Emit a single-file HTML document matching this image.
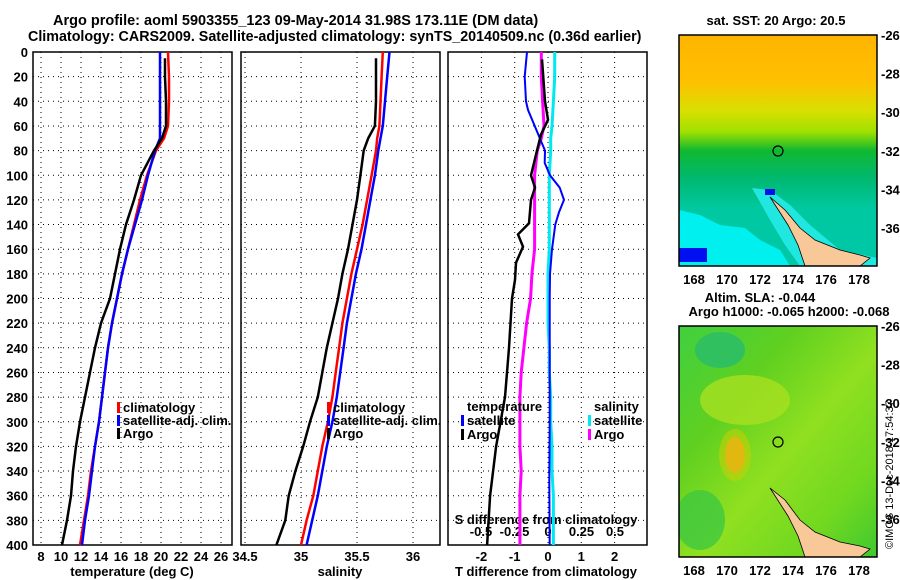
<!DOCTYPE html>
<html><head><meta charset="utf-8"><style>
body{margin:0;background:#fff;}
svg{display:block;font-family:"Liberation Sans",sans-serif;font-weight:bold;}
</style></head><body>
<svg id="c" width="900" height="580" viewBox="0 0 900 580">
<defs>
<linearGradient id="sst" x1="0" y1="0" x2="0" y2="1">
<stop offset="0" stop-color="#ffb400"/><stop offset="0.2" stop-color="#ffc000"/><stop offset="0.33" stop-color="#d8e000"/><stop offset="0.42" stop-color="#9ee000"/><stop offset="0.5" stop-color="#10b830"/><stop offset="0.62" stop-color="#00b870"/><stop offset="0.75" stop-color="#00c8a0"/><stop offset="1" stop-color="#00c8a8"/>
</linearGradient>
<linearGradient id="sla" x1="0" y1="0" x2="1" y2="1">
<stop offset="0" stop-color="#40d040"/><stop offset="0.3" stop-color="#60d020"/><stop offset="0.55" stop-color="#90e020"/><stop offset="0.8" stop-color="#70d820"/><stop offset="1" stop-color="#40c830"/>
</linearGradient>
<clipPath id="m1"><rect x="679" y="35" width="198" height="231"/></clipPath>
<clipPath id="m2"><rect x="679" y="326" width="198" height="231"/></clipPath>
</defs>
<text x="53" y="25" font-size="14.5">Argo profile: aoml 5903355_123 09-May-2014 31.98S 173.11E (DM data)</text>
<text x="28" y="41" font-size="14.3">Climatology: CARS2009. Satellite-adjusted climatology: synTS_20140509.nc (0.36d earlier)</text>
<g id="plots"></g>
<g>
<text x="776" y="25" font-size="13" text-anchor="middle">sat. SST: 20 Argo: 20.5</text>
<g clip-path="url(#m1)">
<rect x="679" y="35" width="198" height="231" fill="url(#sst)"/>
<path d="M679 210 L700 215 L720 225 L745 228 L760 240 L780 250 L790 266 L679 266 Z" fill="#00f0f0"/>
<rect x="679" y="248" width="28" height="14" fill="#0010f0"/>
<path d="M752 188 L770 190 L790 205 L810 225 L840 250 L877 258 L877 266 L800 266 L785 245 L770 220 Z" fill="#20e8e0"/>
<path d="M770 197 L785 210 L800 228 L815 240 L840 250 L860 255 L870 258 L860 266 L805 266 L798 245 L788 225 Z" fill="#f8c898" stroke="#000" stroke-width="0.8"/>
<rect x="765" y="189" width="10" height="6" fill="#0010f0"/>
</g>
<rect x="679" y="35" width="198" height="231" fill="none" stroke="#000" stroke-width="1.5"/>
<circle cx="778" cy="151" r="5" fill="none" stroke="#000" stroke-width="1.2"/>
</g>
<g>
<text x="760" y="302" font-size="13" text-anchor="middle">Altim. SLA: -0.044</text>
<text x="789" y="316" font-size="13" text-anchor="middle">Argo h1000: -0.065 h2000: -0.068</text>
<g clip-path="url(#m2)">
<rect x="679" y="326" width="198" height="231" fill="url(#sla)"/>
<ellipse cx="720" cy="350" rx="25" ry="18" fill="#30c060"/>
<ellipse cx="745" cy="400" rx="45" ry="25" fill="#a8e020" opacity="0.8"/>
<ellipse cx="735" cy="455" rx="10" ry="18" fill="#f0a020"/>
<ellipse cx="735" cy="455" rx="16" ry="26" fill="#d0d000" opacity="0.5"/>
<ellipse cx="700" cy="520" rx="25" ry="30" fill="#40c840" opacity="0.8"/>
<path d="M770 488 L785 500 L800 520 L815 532 L840 542 L860 546 L870 549 L860 557 L805 557 L798 536 L788 516 Z" fill="#f8c898" stroke="#000" stroke-width="0.8"/>
</g>
<rect x="679" y="326" width="198" height="231" fill="none" stroke="#000" stroke-width="1.5"/>
<circle cx="778" cy="442" r="5" fill="none" stroke="#000" stroke-width="1.2"/>
</g>
<text transform="translate(893,549) rotate(-90)" font-size="11" font-weight="normal">©IMOS 13-Dec-2018 17:54:37</text>
</svg>
<script>
const depths=[0,20,40,60,70,80,100,120,140,160,180,200,220,240,260,280,300,320,340,360,380,400];
const tClim=[20.7,20.8,20.8,20.7,20.3,19.5,18.6,17.9,17.3,16.7,16.1,15.6,15.1,14.7,14.4,14.1,13.8,13.4,13.0,12.7,12.3,11.9];
const tSat =[19.9,19.9,19.9,19.9,19.9,19.4,18.7,18.1,17.4,16.7,16.1,15.6,15.1,14.7,14.4,14.1,13.8,13.4,13.1,12.8,12.4,12.1];
const argoDepths=[5,20,40,60,70,80,100,120,140,160,180,200,220,240,260,280,300,320,340,360,380,400];
const tArgo=[20.4,20.4,20.5,20.5,20.1,19.3,18.0,17.3,16.5,15.9,15.4,14.9,14.0,13.4,12.9,12.4,11.9,11.5,11.2,11.0,10.6,10.1];
const sClim=[35.73,35.72,35.71,35.70,35.68,35.67,35.63,35.59,35.55,35.50,35.45,35.41,35.37,35.34,35.31,35.28,35.24,35.19,35.15,35.11,35.05,35.00];
const sSat =[35.79,35.77,35.75,35.73,35.71,35.69,35.66,35.62,35.58,35.54,35.49,35.45,35.41,35.38,35.35,35.32,35.28,35.23,35.19,35.15,35.10,35.05];
const sArgo=[35.67,35.67,35.67,35.66,35.60,35.56,35.53,35.50,35.46,35.42,35.37,35.33,35.28,35.23,35.19,35.15,35.08,35.02,34.95,34.89,34.86,34.78];
const dtSatDepths=[0,20,40,47,60,80,90,100,110,120,130,140,160,180,200,250,300,350,400];
const dtSat=[-0.63,-0.7,-0.66,-0.6,-0.4,-0.09,-0.1,0.06,0.35,0.48,0.33,0.22,0.12,0.06,0.05,0.05,0.05,0.04,0.05];
const dtArgoDepths=[6,40,55,67,80,100,110,120,139,148,158,171,185,200,240,280,320,360,400];
const dtArgo=[-0.18,-0.09,0,-0.21,-0.33,-0.51,-0.39,-0.51,-0.57,-0.9,-0.75,-0.96,-0.99,-1.08,-1.17,-1.29,-1.56,-1.74,-1.83];
const dsArgo=[-0.05,-0.05,-0.04,-0.03,-0.05,-0.08,-0.1,-0.1,-0.1,-0.1,-0.12,-0.13,-0.16,-0.18,-0.2,-0.21,-0.21,-0.21,-0.2,-0.21,-0.21,-0.21];
const dsSat=[0.05,0.05,0.04,0.03,0.02,0.02,0.01,0.01,0.01,0.01,0.0,0.0,0.0,0.01,0.01,0.02,0.02,0.03,0.03,0.04,0.04,0.04];
const depthTicks=[0,20,40,60,80,100,120,140,160,180,200,220,240,260,280,300,320,340,360,380,400];
const tTicks=[8,10,12,14,16,18,20,22,24,26];
const sTicks=[34.5,35,35.5,36];
const dtTicks=[-2,-1,0,1,2];
const dsTicks=[-0.5,-0.25,0,0.25,0.5];
const lats=[-26,-28,-30,-32,-34,-36];
const lons=[168,170,172,174,176,178];

const NS='http://www.w3.org/2000/svg';
const g=document.getElementById('plots');
function mk(tag,at,parent){const e=document.createElementNS(NS,tag);for(const k in at)e.setAttribute(k,at[k]);(parent||g).appendChild(e);return e;}
const Y=d=>52+d*1.2325;
const xT=v=>41+(v-8)*10;
const xS=v=>245+(v-34.5)*112;
const xDT=v=>548+v*33.3;
const xDS=v=>548+v*134;
const panels=[[33,232],[241,440],[448,647]];
panels.forEach((p,i)=>{
  let f=mk('rect',{x:p[0],y:52,width:p[1]-p[0],height:493,fill:'none',stroke:'#000','stroke-width':1.5});
  
  
  depthTicks.forEach(d=>{if(d>0&&d<400){let l=mk('line',{x1:p[0],x2:p[1],y1:Y(d),y2:Y(d),stroke:'#000','stroke-width':1,'stroke-dasharray':'1 4'});}});
});
depthTicks.forEach(d=>{let t=mk('text',{x:28,y:Y(d)+5,'font-size':13,'text-anchor':'end'});t.textContent=d;});
function vgrid(ticks,fx,labels,ly){ticks.forEach(v=>{const x=fx(v);let l=mk('line',{x1:x,x2:x,y1:52,y2:545,stroke:'#000','stroke-dasharray':'1 4'});if(labels){let t=mk('text',{x:x,y:ly,'font-size':13,'text-anchor':'middle'});t.textContent=v;}});}
vgrid(tTicks,xT,true,561);
vgrid(sTicks,xS,true,561);
vgrid(dtTicks,xDT,true,561);
dsTicks.forEach(v=>{let t=mk('text',{x:xDS(v),y:536,'font-size':13,'text-anchor':'middle'});t.textContent=v;});
[[132,'temperature (deg C)'],[340,'salinity'],[546,'T difference from climatology']].forEach(a=>{let t=mk('text',{x:a[0],y:576,'font-size':13,'text-anchor':'middle'});t.textContent=a[1];});
let st=mk('text',{x:546,y:524,'font-size':13,'text-anchor':'middle'});st.textContent='S difference from climatology';


function line(vals,ds,fx,color,name,w){const pts=vals.map((v,i)=>fx(v).toFixed(1)+','+Y(ds[i]).toFixed(1)).join(' ');let l=mk('polyline',{points:pts,fill:'none',stroke:color,'stroke-width':w||2.5});}
line(tClim,depths,xT,'#f00','temp-climatology-line');
line(tSat,depths,xT,'#00f','temp-satellite-line');
line(tArgo,argoDepths,xT,'#000','temp-argo-line');
line(sClim,depths,xS,'#f00','sal-climatology-line');
line(sSat,depths,xS,'#00f','sal-satellite-line');
line(sArgo,argoDepths,xS,'#000','sal-argo-line');
line(dsSat,depths,xDS,'#00e8f0','sdiff-satellite-line',3);
line(dsArgo,depths,xDS,'#f0f','sdiff-argo-line',3);
line(dtSat,dtSatDepths,xDT,'#00f','tdiff-satellite-line',2);
line(dtArgo,dtArgoDepths,xDT,'#000','tdiff-argo-line',2.5);
function leg(x,y,color,txt){if(color){let r=mk('rect',{x:x-6,y:y-10,width:3,height:11,fill:color});}let t=mk('text',{x:x,y:y,'font-size':13});t.textContent=txt;}
leg(123,412,'#f00','climatology');leg(123,425,'#00f','satellite-adj. clim.');leg(123,438,'#000','Argo');
leg(333,412,'#f00','climatology');leg(333,425,'#00f','satellite-adj. clim.');leg(333,438,'#000','Argo');
leg(467,411,null,'temperature');leg(467,425,'#00f','satellite');leg(467,439,'#000','Argo');
leg(594,411,null,'salinity');leg(594,425,'#00e8f0','satellite');leg(594,439,'#f0f','Argo');
[[35,266],[326,557]].forEach(m=>{
  const ly=v=>m[0]+(-26-v)*19.3;
  const lx=v=>694+(v-168)*16.5;
  lats.forEach(v=>{let t=mk('text',{x:881,y:ly(v)+5,'font-size':13});t.textContent=v;mk('line',{x1:873,x2:877,y1:ly(v),y2:ly(v),stroke:'#000'});mk('line',{x1:679,x2:683,y1:ly(v),y2:ly(v),stroke:'#000'});});
  lons.forEach(v=>{let t=mk('text',{x:lx(v),y:m[1]+18,'font-size':13,'text-anchor':'middle'});t.textContent=v;mk('line',{x1:lx(v),x2:lx(v),y1:m[1]-4,y2:m[1],stroke:'#000'});mk('line',{x1:lx(v),x2:lx(v),y1:m[0],y2:m[0]+4,stroke:'#000'});});
});
</script>
</body></html>
